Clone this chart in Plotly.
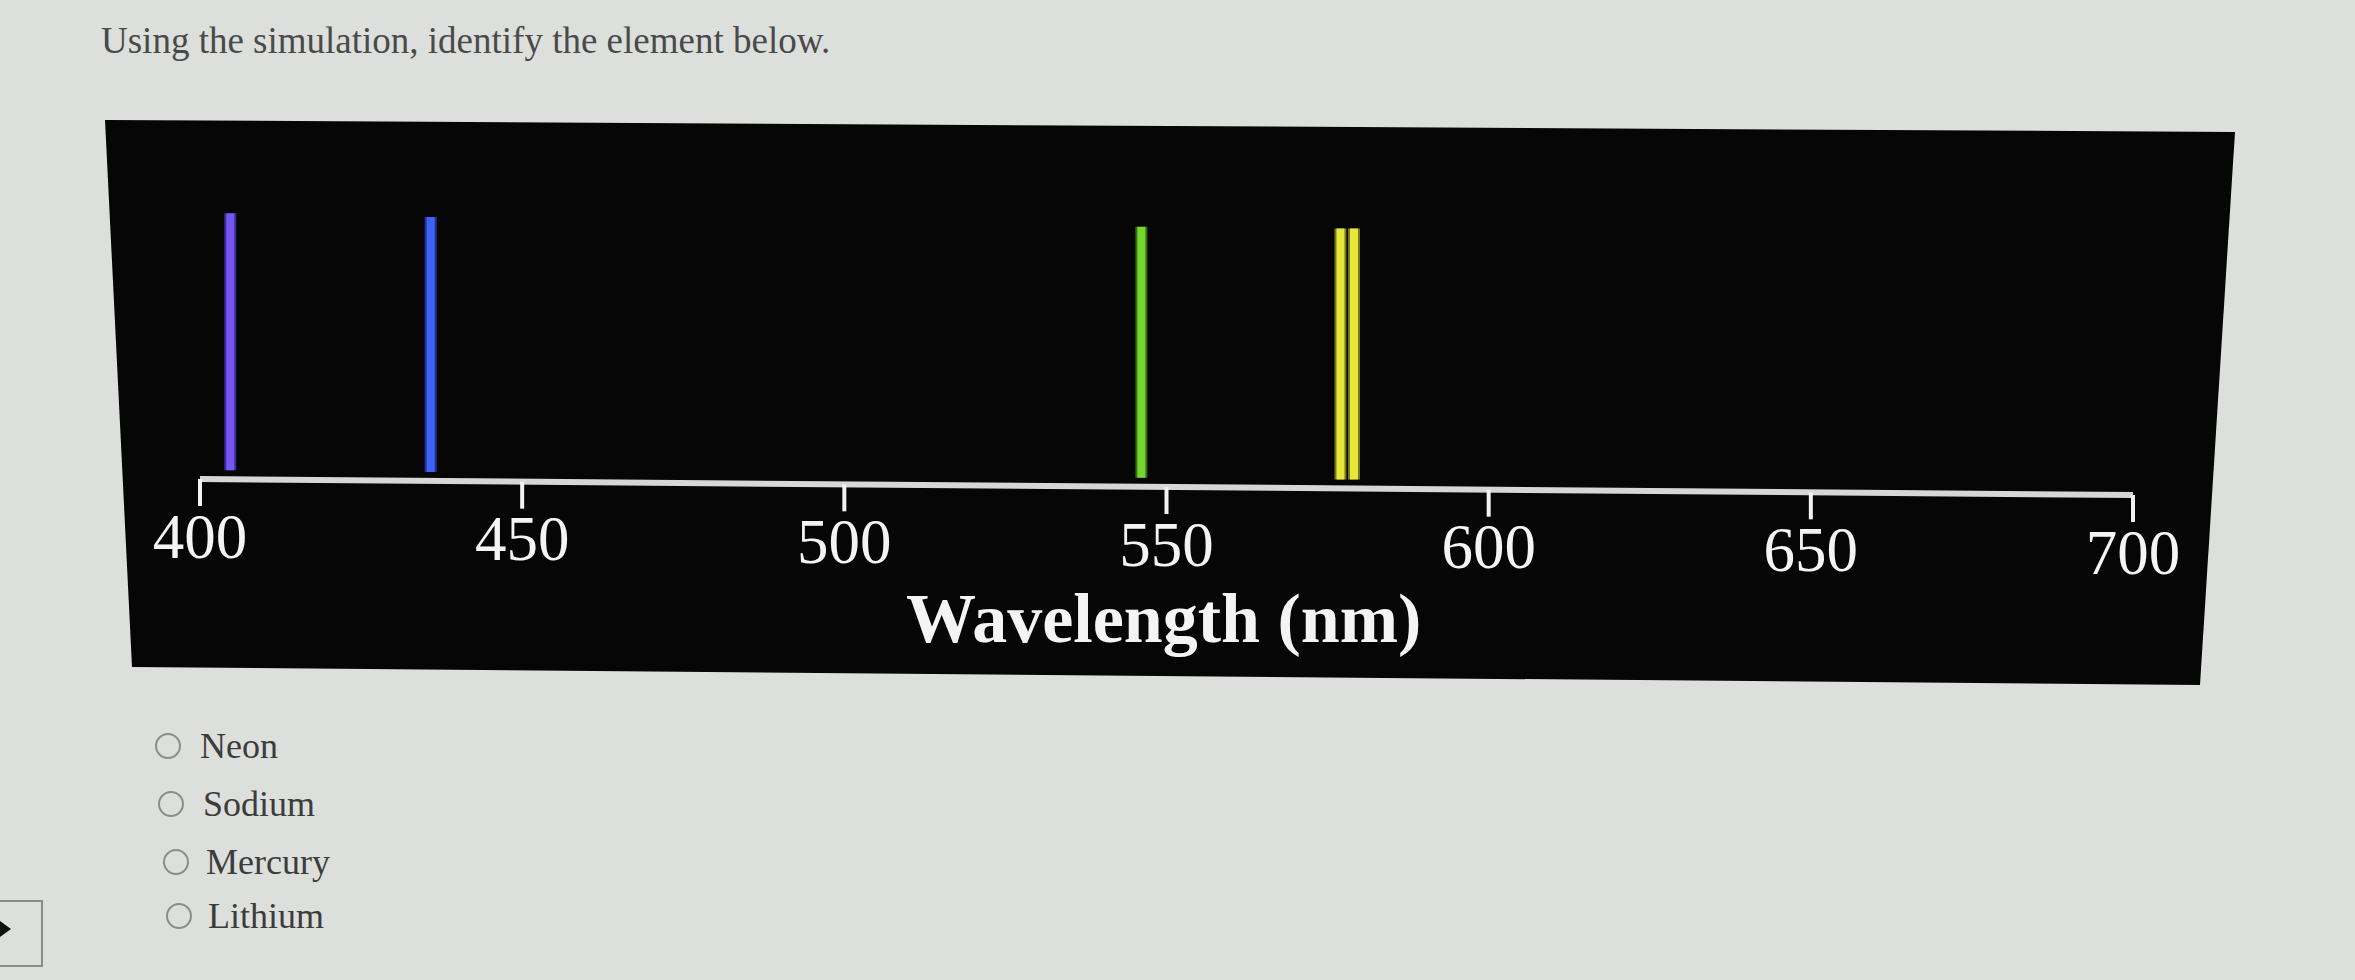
import plotly.graph_objects as go

# ---------------- data ----------------
line_wavelengths_nm = [404.7, 435.8, 546.1, 577.0, 579.1]
line_heights = [1.004, 0.996, 0.981, 0.981, 0.981]
line_colors = ["#7657f2", "#3f62f6", "#74d72e", "#e6e63c", "#e6e63c"]
line_edge_colors = ["#3b2c99", "#22349a", "#356e12", "#77771a", "#77771a"]
tick_values = [400, 450, 500, 550, 600, 650, 700]
tick_labels = ["400", "450", "500", "550", "600", "650", "700"]
axis_title = "Wavelength (nm)"
question = "Using the simulation, identify the element below."
choices = ["Neon", "Sodium", "Mercury", "Lithium"]

# ---------------- geometry helpers ----------------
W, H = 2355, 980
PX400, PX700 = 200.0, 2133.0
PX_PER_NM = (PX700 - PX400) / 300.0
Y0_PX = 479.0          # axis baseline (pixels from top) at 400 nm
UNIT_PX = 265.0        # pixels per unit of line height
TILT_PX = 16.0         # photo perspective: baseline drops this much from 400 to 700 nm

x_range = [400 - PX400 / PX_PER_NM, 400 + (W - PX400) / PX_PER_NM]
y_range = [-(H - Y0_PX) / UNIT_PX, Y0_PX / UNIT_PX]


def base(w):
    return -(TILT_PX / UNIT_PX) * (w - 400) / 300.0


def px(x, y):
    return x / W, 1 - y / H


fig = go.Figure()

# spectral lines: edges first, then fills
gap = 9 / UNIT_PX
for w, h, ec in zip(line_wavelengths_nm, line_heights, line_edge_colors):
    fig.add_trace(go.Scatter(x=[w, w], y=[base(w) + gap, base(w) + h], mode="lines",
                             line=dict(color=ec, width=12), hoverinfo="skip", showlegend=False))
for w, h, c in zip(line_wavelengths_nm, line_heights, line_colors):
    fig.add_trace(go.Scatter(x=[w, w], y=[base(w) + gap, base(w) + h], mode="lines",
                             line=dict(color=c, width=8), hoverinfo="skip", showlegend=False))

# axis line
fig.add_trace(go.Scatter(x=[tick_values[0], tick_values[-1]],
                         y=[base(tick_values[0]), base(tick_values[-1])],
                         mode="lines", line=dict(color="#d6d6d6", width=6),
                         hoverinfo="skip", showlegend=False))
# ticks
tick_len = 27 / UNIT_PX
for t in tick_values:
    fig.add_trace(go.Scatter(x=[t, t], y=[base(t), base(t) - tick_len], mode="lines",
                             line=dict(color="#f2f2f2", width=4),
                             hoverinfo="skip", showlegend=False))
# tick labels
fig.add_trace(go.Scatter(x=tick_values, y=[base(t) - 63 / UNIT_PX for t in tick_values],
                         mode="text", text=tick_labels, textposition="middle center",
                         textfont=dict(family="Liberation Serif", size=63, color="#f4f4f4"),
                         hoverinfo="skip", showlegend=False))

# axis title
fig.add_annotation(x=549.5, y=base(549.5) - 132 / UNIT_PX, xref="x", yref="y",
                   text="<b>" + axis_title + "</b>", showarrow=False,
                   font=dict(family="Liberation Serif", size=70, color="#f4f4f4"),
                   xanchor="center", yanchor="middle")

# black panel (photographed slightly in perspective)
corners = [(105, 120), (2235, 132), (2200, 685), (132, 667)]
pts = [px(*c) for c in corners]
path = "M " + " L ".join(f"{a:.5f},{b:.5f}" for a, b in pts) + " Z"
shapes = [dict(type="path", path=path, xref="paper", yref="paper",
               fillcolor="#060606", line=dict(width=0), layer="below")]

# question text
qx, qy = px(99, 40)
fig.add_annotation(x=qx, y=qy, xref="paper", yref="paper", text=question, showarrow=False,
                   xanchor="left", yanchor="middle",
                   font=dict(family="Liberation Serif", size=37, color="#4a4a4a"))

# choices with radio circles
circle_centers = [(168, 746), (171, 804), (176, 862), (179, 916)]
text_left = [198, 201, 204, 206]
for (cx, cy), tx, label in zip(circle_centers, text_left, choices):
    x0, y0 = px(cx - 12, cy + 12)
    x1, y1 = px(cx + 12, cy - 12)
    shapes.append(dict(type="circle", xref="paper", yref="paper", x0=x0, y0=y0, x1=x1, y1=y1,
                       line=dict(color="#8c8c8c", width=2), fillcolor="rgba(0,0,0,0)"))
    ax, ay = px(tx, cy)
    fig.add_annotation(x=ax, y=ay, xref="paper", yref="paper", text=label, showarrow=False,
                       xanchor="left", yanchor="middle",
                       font=dict(family="Liberation Serif", size=36, color="#3c3c3c"))

# small partial button at the bottom-left edge
bx0, by0 = px(-6, 966)
bx1, by1 = px(42, 901)
shapes.append(dict(type="rect", xref="paper", yref="paper", x0=bx0, y0=by0, x1=bx1, y1=by1,
                   line=dict(color="#8a8a8a", width=2), fillcolor="rgba(0,0,0,0)"))
tri = [px(0, 921), px(11, 929), px(0, 937)]
shapes.append(dict(type="path", xref="paper", yref="paper",
                   path="M " + " L ".join(f"{a:.5f},{b:.5f}" for a, b in tri) + " Z",
                   fillcolor="#111111", line=dict(width=0)))

fig.update_layout(
    width=W, height=H,
    margin=dict(l=0, r=0, t=0, b=0, pad=0),
    paper_bgcolor="#dcdfdb",
    plot_bgcolor="rgba(0,0,0,0)",
    shapes=shapes,
    xaxis=dict(range=x_range, visible=False, fixedrange=True),
    yaxis=dict(range=y_range, visible=False, fixedrange=True),
    showlegend=False,
)

fig.write_html("out.html", config={"displayModeBar": False},
               post_script="document.body.style.margin='0';document.body.style.overflow='hidden';")
